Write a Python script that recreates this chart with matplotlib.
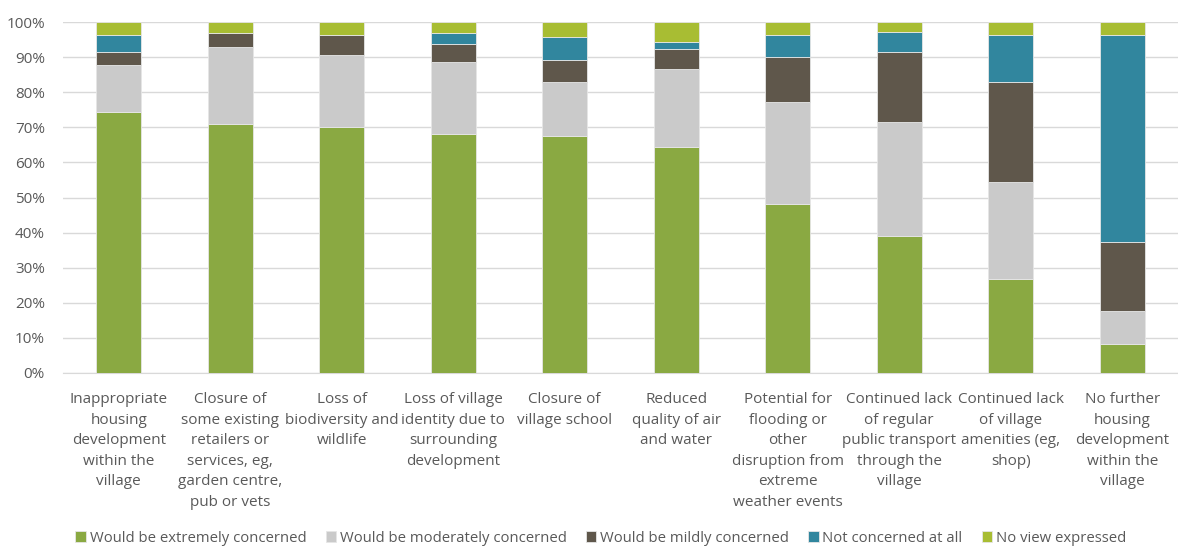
import matplotlib
matplotlib.use("Agg")
import matplotlib.pyplot as plt
import numpy as np
from matplotlib.ticker import PercentFormatter

categories = [
    "Inappropriate\nhousing\ndevelopment\nwithin the\nvillage",
    "Closure of\nsome existing\nretailers or\nservices, eg,\ngarden centre,\npub or vets",
    "Loss of\nbiodiversity and\nwildlife",
    "Loss of village\nidentity due to\nsurrounding\ndevelopment",
    "Closure of\nvillage school",
    "Reduced\nquality of air\nand water",
    "Potential for\nflooding or\nother\ndisruption from\nextreme\nweather events",
    "Continued lack\nof regular\npublic transport\nthrough the\nvillage",
    "Continued lack\nof village\namenities (eg,\nshop)",
    "No further\nhousing\ndevelopment\nwithin the\nvillage",
]

series_names = [
    "Would be extremely concerned",
    "Would be moderately concerned",
    "Would be mildly concerned",
    "Not concerned at all",
    "No view expressed",
]

extremely = [74.3, 70.8, 70.1, 68.0, 67.4, 64.4, 48.1, 38.9, 26.8, 8.3]
moderately = [13.5, 22.2, 20.6, 20.7, 15.6, 22.2, 29.2, 32.7, 27.7, 9.3]
mildly = [3.6, 4.0, 5.7, 4.9, 6.3, 5.6, 12.8, 19.9, 28.5, 19.8]
not_concerned = [5.0, 0.0, 0.0, 3.4, 6.3, 2.1, 6.3, 5.6, 13.4, 59.0]
no_view = [3.6, 3.0, 3.6, 3.0, 4.4, 5.7, 3.6, 2.9, 3.6, 3.6]

colors = ["#8AA942", "#CACACA", "#5F574B", "#31869E", "#A8BD33"]

plt.rcParams['font.family'] = ['Open Sans', 'DejaVu Sans']

fig = plt.figure(figsize=(11.78, 5.46), dpi=100)
ax = fig.add_axes([63/1178, 1 - 373/546, 1 - 63/1178, (373 - 22)/546])

x = np.arange(len(categories))
bottom = np.zeros(len(categories))
handles = []
for vals, name, col in zip([extremely, moderately, mildly, not_concerned, no_view], series_names, colors):
    v = np.array(vals)
    b = ax.bar(x, v, 0.4, bottom=bottom, color=col, edgecolor="#E6E6E6", linewidth=0.6,
               label=name, zorder=3)
    handles.append(b)
    bottom += v

ax.set_xlim(-0.5, len(categories) - 0.5)
ax.set_ylim(0, 100)
ax.set_yticks(np.arange(0, 101, 10))
ax.yaxis.set_major_formatter(PercentFormatter(decimals=0))
ax.grid(axis="y", color="#D9D9D9", linewidth=1, zorder=0)
for s in ["top", "right", "left"]:
    ax.spines[s].set_visible(False)
ax.spines["bottom"].set_color("#D9D9D9")
ax.tick_params(axis="y", length=0, labelsize=11, labelcolor="#595959", pad=13)
ax.tick_params(axis="x", length=0, labelsize=11, labelcolor="#595959", pad=14)
ax.set_xticks(x)
ax.set_xticklabels(categories, linespacing=1.5, va="top")

leg = fig.legend(handles=handles, labels=series_names, loc="center", bbox_to_anchor=(0.51, 1 - 538/546),
                 ncol=5, frameon=False, fontsize=10.7, handlelength=0.7, handleheight=0.7,
                 handletextpad=0.25, columnspacing=1.3, labelcolor="#595959")

fig.savefig("out.png", dpi=100)
